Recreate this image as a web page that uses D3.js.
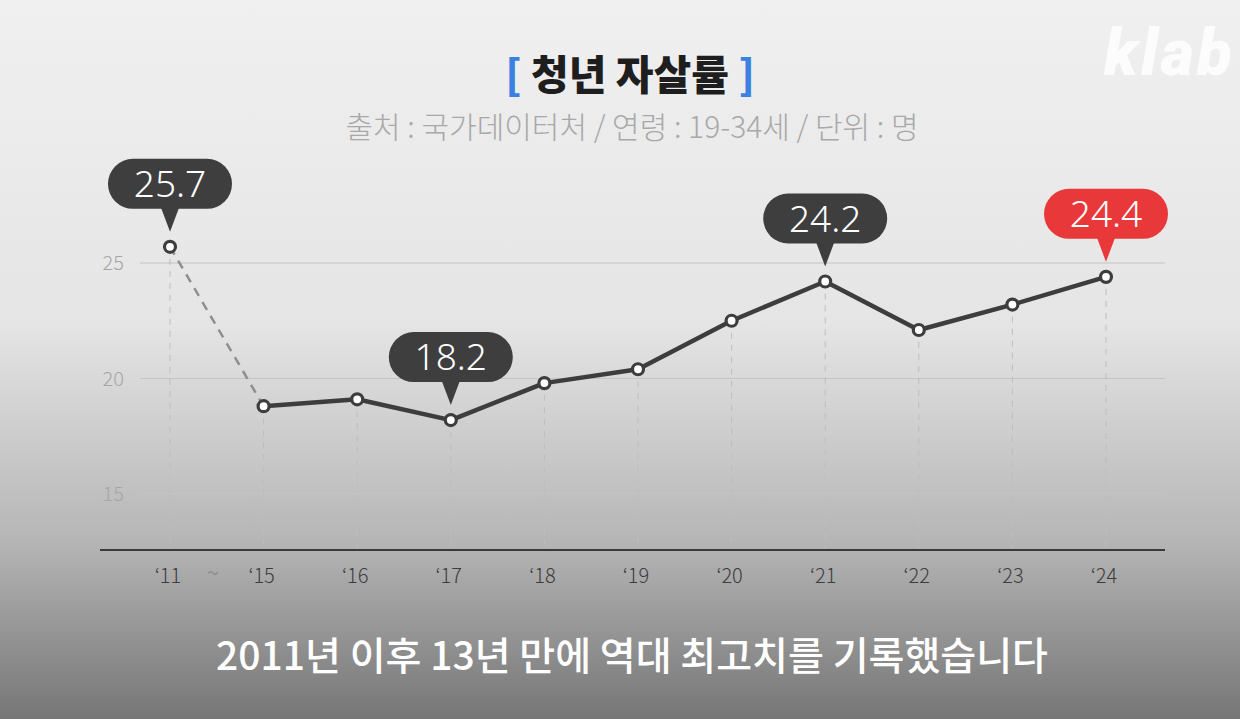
<!DOCTYPE html>
<html>
<head>
<meta charset="utf-8">
<script src="https://cdn.jsdelivr.net/npm/d3@7"></script>
<style>
  html, body { margin: 0; padding: 0; overflow: hidden; }
  body { font-family: "Noto Sans CJK KR", "Noto Sans", sans-serif; }
</style>
</head>
<body>
<div id="chart"></div>
<script>
var WIDTH = 1240;
var HEIGHT = 719;

// data
var years = ["'11", "'15", "'16", "'17", "'18", "'19", "'20", "'21", "'22", "'23", "'24"];
var yearLabels = ["\u201811", "\u201815", "\u201816", "\u201817", "\u201818", "\u201819", "\u201820", "\u201821", "\u201822", "\u201823", "\u201824"];
var rates = [25.7, 18.8, 19.1, 18.2, 19.8, 20.4, 22.5, 24.2, 22.1, 23.2, 24.4];
var callouts = ["'11", "'17", "'21", "'24"];
var yTicks = [15, 20, 25];

var TITLE = "청년 자살률";
var SUBTITLE = "출처 : 국가데이터처 / 연령 : 19-34세 / 단위 : 명";
var CAPTION = "2011년 이후 13년 만에 역대 최고치를 기록했습니다";

var svg = d3.select("#chart").append("svg")
  .attr("width", WIDTH)
  .attr("height", HEIGHT);

// fondo degradado
var defs = svg.append("defs");
var grad = defs.append("linearGradient")
  .attr("id", "bg").attr("x1", 0).attr("y1", 0).attr("x2", 0).attr("y2", 1);
grad.append("stop").attr("offset", "0").attr("stop-color", "#f0f0f0");
grad.append("stop").attr("offset", "0.45").attr("stop-color", "#e5e5e5");
grad.append("stop").attr("offset", "0.75").attr("stop-color", "#b6b6b6");
grad.append("stop").attr("offset", "1").attr("stop-color", "#767676");

svg.append("rect")
  .attr("width", WIDTH).attr("height", HEIGHT)
  .attr("fill", "url(#bg)");

// logo (cortado por el borde)
svg.append("text")
  .attr("x", 1104).attr("y", 75)
  .style("font-family", "Roboto, sans-serif")
  .style("font-size", "64px")
  .style("font-weight", "900")
  .style("font-style", "italic")
  .style("letter-spacing", "3px")
  .attr("fill", "#ffffff")
  .attr("opacity", 0.85)
  .text("klab");

// titulo
var title = svg.append("text")
  .attr("x", 630).attr("y", 90)
  .attr("text-anchor", "middle")
  .style("font-size", "41px")
  .style("font-weight", "900");
title.append("tspan").attr("fill", "#3b82e0").text("[ ");
title.append("tspan").attr("fill", "#1e1e1e").text(TITLE);
title.append("tspan").attr("fill", "#3b82e0").text(" ]");

svg.append("text")
  .attr("x", 632).attr("y", 138)
  .attr("text-anchor", "middle")
  .style("font-size", "30px")
  .style("font-weight", "300")
  .attr("fill", "#a8a8a8")
  .text(SUBTITLE);

// escalas
var x = d3.scalePoint()
  .domain(years)
  .range([170, 1106]);

var y = d3.scaleLinear()
  .domain([15, 25])
  .range([494, 263]);

var BASE = 550;

// grid horizontal
svg.append("g")
  .selectAll("line")
  .data(yTicks)
  .enter().append("line")
  .attr("x1", 140).attr("x2", 1165)
  .attr("y1", function(d){ return y(d); })
  .attr("y2", function(d){ return y(d); })
  .attr("stroke", "#c4c4c4")
  .attr("stroke-width", 1.2);

svg.append("g")
  .selectAll("text")
  .data(yTicks)
  .enter().append("text")
  .attr("x", 124)
  .attr("y", function(d){ return y(d); })
  .attr("dy", "0.35em")
  .attr("text-anchor", "end")
  .style("font-size", "20px")
  .style("font-weight", "300")
  .attr("fill", "#a6a6a6")
  .text(function(d){ return d; });

// lineas verticales punteadas
svg.append("g")
  .selectAll("line")
  .data(years)
  .enter().append("line")
  .attr("x1", function(d){ return x(d); })
  .attr("x2", function(d){ return x(d); })
  .attr("y1", function(d, i){ return y(rates[i]); })
  .attr("y2", BASE)
  .attr("stroke", "#bdbdbd")
  .attr("stroke-width", 1)
  .attr("stroke-dasharray", "6,6");

// eje x
svg.append("line")
  .attr("x1", 100).attr("x2", 1165)
  .attr("y1", BASE).attr("y2", BASE)
  .attr("stroke", "#3a3a3a")
  .attr("stroke-width", 1.8);

svg.append("g")
  .selectAll("text")
  .data(years)
  .enter().append("text")
  .attr("x", function(d){ return x(d) - 2; })
  .attr("y", 583)
  .attr("text-anchor", "middle")
  .style("font-size", "20px")
  .style("font-weight", "300")
  .attr("fill", "#3c3c3c")
  .text(function(d, i){ return yearLabels[i]; });

svg.append("text")
  .attr("x", (x("'11") + x("'15")) / 2 - 4)
  .attr("y", 581)
  .attr("text-anchor", "middle")
  .style("font-size", "22px")
  .attr("fill", "#8f8f8f")
  .text("~");

// tramo punteado '11 - '15
var pts = years.map(function(d, i){ return [x(d), y(rates[i])]; });

svg.append("path")
  .attr("d", d3.line()(pts.slice(0, 2)))
  .attr("fill", "none")
  .attr("stroke", "#8f8f8f")
  .attr("stroke-width", 2.5)
  .attr("stroke-dasharray", "9,7");

svg.append("path")
  .attr("d", d3.line()(pts.slice(1)))
  .attr("fill", "none")
  .attr("stroke", "#3d3d3d")
  .attr("stroke-width", 4.5)
  .attr("stroke-linejoin", "round");

svg.append("g")
  .selectAll("circle")
  .data(years)
  .enter().append("circle")
  .attr("cx", function(d){ return x(d); })
  .attr("cy", function(d, i){ return y(rates[i]); })
  .attr("r", 5.5)
  .attr("fill", "#ffffff")
  .attr("stroke", "#3d3d3d")
  .attr("stroke-width", 3.2);

// burbujas
var BW = 124, BH = 50;
callouts.forEach(function(c){
  var i = years.indexOf(c);
  var cx = x(c), cy = y(rates[i]);
  var bottom = cy - 38;
  var col = (c === "'24") ? "#e8383a" : "#3e3e3e";
  var g = svg.append("g");
  g.append("rect")
    .attr("x", cx - BW / 2).attr("y", bottom - BH)
    .attr("width", BW).attr("height", BH)
    .attr("rx", 25).attr("ry", 25)
    .attr("fill", col);
  g.append("path")
    .attr("d", "M" + (cx - 9) + "," + (bottom - 1) + "L" + (cx + 9) + "," + (bottom - 1) + "L" + cx + "," + (cy - 15) + "Z")
    .attr("fill", col);
  g.append("text")
    .attr("x", cx).attr("y", bottom - BH / 2)
    .attr("dy", "0.36em")
    .attr("text-anchor", "middle")
    .style("font-family", "'Noto Sans', sans-serif")
    .style("font-size", "37px")
    .style("font-weight", "300")
    .attr("fill", "#ffffff")
    .text(rates[i].toFixed(1));
});

// subtitulo inferior
svg.append("text")
  .attr("x", 632).attr("y", 670)
  .attr("text-anchor", "middle")
  .style("font-size", "39px")
  .style("font-weight", "500")
  .attr("fill", "#ffffff")
  .text(CAPTION);
</script>
</body>
</html>
